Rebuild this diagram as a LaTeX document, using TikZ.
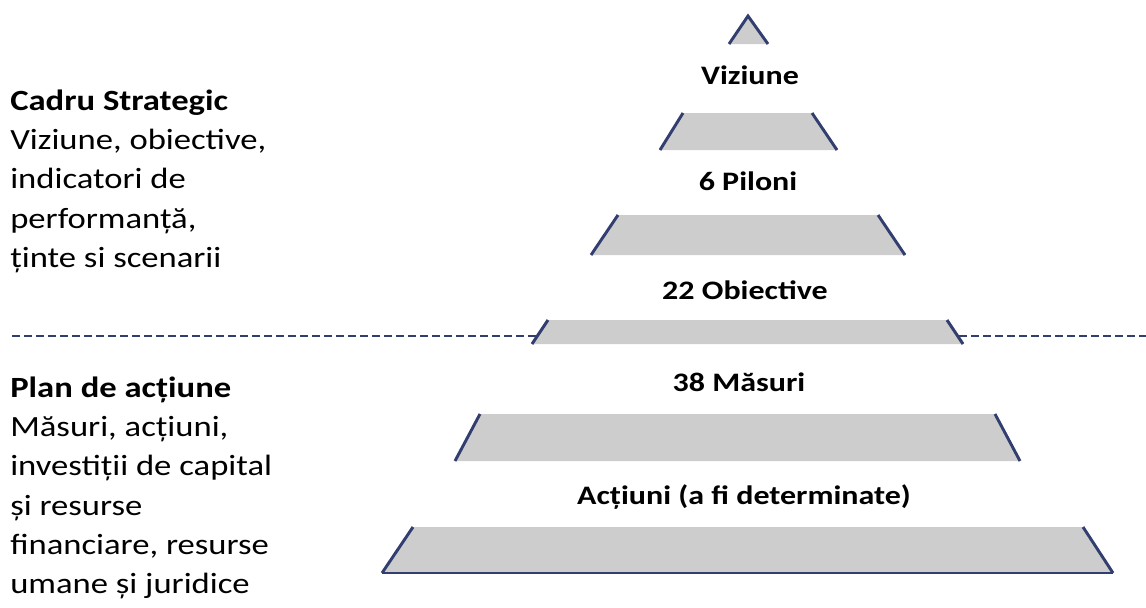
\documentclass[tikz,border=0pt]{standalone}
\usepackage{fontspec}
\setmainfont{Carlito}
\usetikzlibrary{positioning}

\definecolor{tiergray}{RGB}{205,205,205}
\definecolor{tierblue}{RGB}{50,62,112}

\begin{document}
\begin{tikzpicture}[x=0.75pt,y=-0.75pt,
  side/.style={draw=tierblue, line width=2.2pt},
  splitline/.style={draw=tierblue, line width=2pt, dash pattern=on 6pt off 3pt},
  tierlabel/.style={font=\fontsize{20}{24}\selectfont\bfseries, inner sep=0pt, xscale=1.2, transform shape},
  sidetext/.style={font=\fontsize{22}{29.3}\selectfont, align=left, anchor=north west, inner sep=0pt, xscale=1.18, transform shape}]
\useasboundingbox (0,0) rectangle (1146,607);

% top of the pyramid
\fill[tiergray] (748,16) -- (768,44) -- (729,44) -- cycle;
\draw[side] (729,44) -- (748,16) -- (768,44);

% tiers: top left/top right/top y/bottom left/bottom right/bottom y
\foreach \tl/\tr/\ty/\bl/\br/\by in {683/812/113/660/837/150,
                                    618/878/215/591/905/255,
                                    548/947/320/532/963/344,
                                    480/995/414/455/1020/461,
                                    413/1083/527/382/1113/573}
{
  \fill[tiergray] (\tl,\ty) -- (\tr,\ty) -- (\br,\by) -- (\bl,\by) -- cycle;
  \draw[side] (\bl,\by) -- (\tl,\ty);
  \draw[side] (\tr,\ty) -- (\br,\by);
}
\draw[side] (382,573) -- (1113,573);

% boundary between strategy and plan
\coordinate (splitL) at (12,336);
\coordinate (tierL) at (538,336);
\coordinate (tierR) at (959,336);
\coordinate (splitR) at (1146,336);
\draw[splitline] (splitL) -- (tierL);
\draw[splitline] (tierR) -- (splitR);

\node[tierlabel] (viziune) at (750,75) {Viziune};
\node[tierlabel] (piloni) at (748,181) {6 Piloni};
\node[tierlabel] (obiective) at (745,290) {22 Obiective};
\node[tierlabel] (masuri) at (739,382) {38 Măsuri};
\node[tierlabel] (actiuni) at (744,497) {Acțiuni (a fi determinate)};

\node[sidetext] (cadru) at (10,90) {\textbf{Cadru Strategic}\\Viziune, obiective,\\indicatori de\\performanță,\\ținte si scenarii};
\node[sidetext] (plan) at (10,377) {\textbf{Plan de acțiune}\\Măsuri, acțiuni,\\investiții de capital\\și resurse\\financiare, resurse\\umane și juridice};
\end{tikzpicture}
\end{document}
